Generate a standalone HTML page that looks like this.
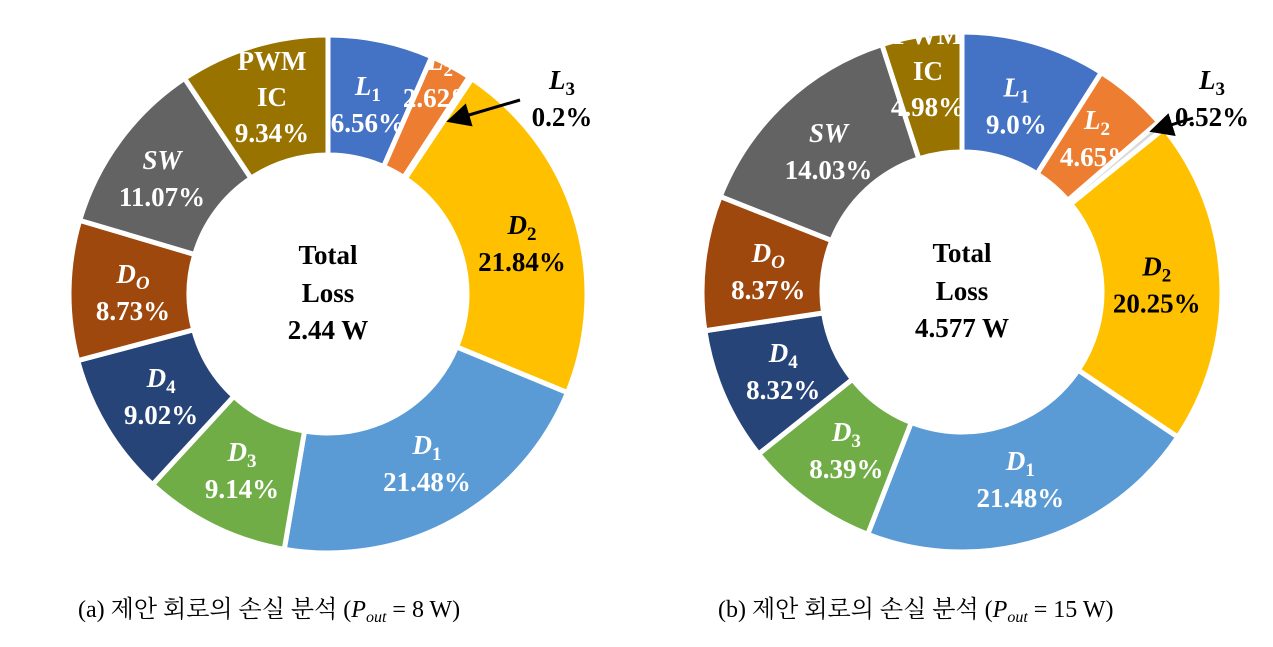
<!DOCTYPE html>
<html><head><meta charset="utf-8">
<style>
body{margin:0;background:#fff;width:1273px;height:642px;overflow:hidden}
svg text{font-family:"Liberation Serif","Noto Serif CJK SC",serif}
</style></head><body>
<svg id="chart" width="1273" height="642" viewBox="0 0 1273 642" xmlns="http://www.w3.org/2000/svg">
<defs><marker id="ah" markerWidth="8" markerHeight="8" refX="6" refY="4" orient="auto"><path d="M0,0 L8,4 L0,8 z" fill="#000"/></marker></defs>
<text x="78" y="617" font-size="24">(a) 제안 회로의 손실 분석 (<tspan font-style="italic">P</tspan><tspan font-style="italic" font-size="16" dy="5">out</tspan><tspan dy="-5"> = 8 W)</tspan></text>
<text x="718" y="617" font-size="24">(b) 제안 회로의 손실 분석 (<tspan font-style="italic">P</tspan><tspan font-style="italic" font-size="16" dy="5">out</tspan><tspan dy="-5"> = 15 W)</tspan></text>
</svg>
<script>
const categories=["L1","L2","L3","D2","D1","D3","D4","DO","SW","PWM IC"];
const valuesA=[6.56,2.62,0.2,21.84,21.48,9.14,9.02,8.73,11.07,9.34];
const valuesB=[9.0,4.65,0.52,20.25,21.48,8.39,8.32,8.37,14.03,4.98];
const totalA="2.44 W";
const totalB="4.577 W";
const colors=["#4472C4","#ED7D31","#D9D9D9","#FFC000","#5B9BD5","#70AD47","#264478","#9E480E","#636363","#997300"];
const NS="http://www.w3.org/2000/svg";
const svg=document.getElementById('chart');
function mk(tag,attrs,parent){const e=document.createElementNS(NS,tag);for(const k in attrs)e.setAttribute(k,attrs[k]);(parent||svg).appendChild(e);return e;}
function pt(cx,cy,r,f){const a=f*2*Math.PI;return [cx+r*Math.sin(a),cy-r*Math.cos(a)];}
function labelName(c,g){
  const t=mk('tspan',{},g);
  if(c==="PWM IC"){return;}
  t.setAttribute('font-style','italic');t.textContent=c[0];
  const s=mk('tspan',{'font-size':'19','dy':'6','font-style':c==="DO"||c==="SW"?'italic':'normal'},g);
  s.textContent=c==="SW"?"W":c.slice(1);
  if(c==="SW"){t.textContent="S";s.setAttribute('font-size','27');s.setAttribute('dy','0');s.setAttribute('font-style','italic');}
}
function donut(id,cx,cy,R,r,vals,total,overrides,arrow){
  const g=mk('g',{});
  
  
  const sum=vals.reduce((a,b)=>a+b,0);
  let acc=0;
  vals.forEach((v,i)=>{
    const f0=acc/sum,f1=(acc+v)/sum;acc+=v;
    const p0=pt(cx,cy,R,f0),p1=pt(cx,cy,R,f1),q1=pt(cx,cy,r,f1),q0=pt(cx,cy,r,f0);
    const large=(f1-f0)>0.5?1:0;
    const p=mk('path',{d:`M${p0} A${R},${R} 0 ${large} 1 ${p1} L${q1} A${r},${r} 0 ${large} 0 ${q0} Z`,fill:colors[i],stroke:'#fff','stroke-width':5},g);
    
    
    const fm=(f0+f1)/2;
    let [lx,ly]=pt(cx,cy,195,fm);
    let o=overrides[i];
    if(o){lx=o[0];ly=o[1];}
    const tg=mk('text',{'font-size':'27','font-weight':'bold','text-anchor':'middle',fill:(i===1||i===2||i===3)&&!o?'#000':(i===3||i===2?'#000':'#fff')},g);
    
    
    if(i===3||i===2){tg.setAttribute('fill','#000');}
    if(i===1&&!o){tg.setAttribute('fill','#000');}
    if(categories[i]==="PWM IC"){
      tg.setAttribute('x',lx);tg.setAttribute('y',ly-28);
      const a=mk('tspan',{x:lx},tg);a.textContent="PWM";
      const b=mk('tspan',{x:lx,dy:36},tg);b.textContent="IC";
      const c=mk('tspan',{x:lx,dy:36},tg);c.textContent=v.toFixed(2).replace(/\.00$/,'.0')+"%";
    } else {
      tg.setAttribute('x',lx);tg.setAttribute('y',ly-8);
      labelName(categories[i],tg);
      const c=mk('tspan',{x:lx,dy:categories[i]==="SW"?37:31},tg);
      c.textContent=(v===9?"9.0":(v===0.2?"0.2":v.toFixed(2)))+"%";
    }
  });
  const ct=mk('text',{'font-size':'27','font-weight':'bold','text-anchor':'middle',fill:'#000'},g);
  
  
  [["Total",cy-30],["Loss",cy+8],[total,cy+45]].forEach(([s,y])=>{const t=mk('tspan',{x:cx,y:y},ct);t.textContent=s;});
  const ar=mk('line',{x1:arrow[0],y1:arrow[1],x2:arrow[2],y2:arrow[3],stroke:'#000','stroke-width':3,'marker-end':'url(#ah)'},g);
  
  
}
donut('a',328,294,259,139,valuesA,totalA,{1:[440,78],2:[562,97],3:[522,242],4:[427,462],8:[162,177],9:[272,98]},[520,100,452,120]);
donut('b',962,292,260,140,valuesB,totalB,{1:[1097,137],2:[1212,97],9:[928,72]},[1193,118,1155,130]);
</script>
</body></html>
